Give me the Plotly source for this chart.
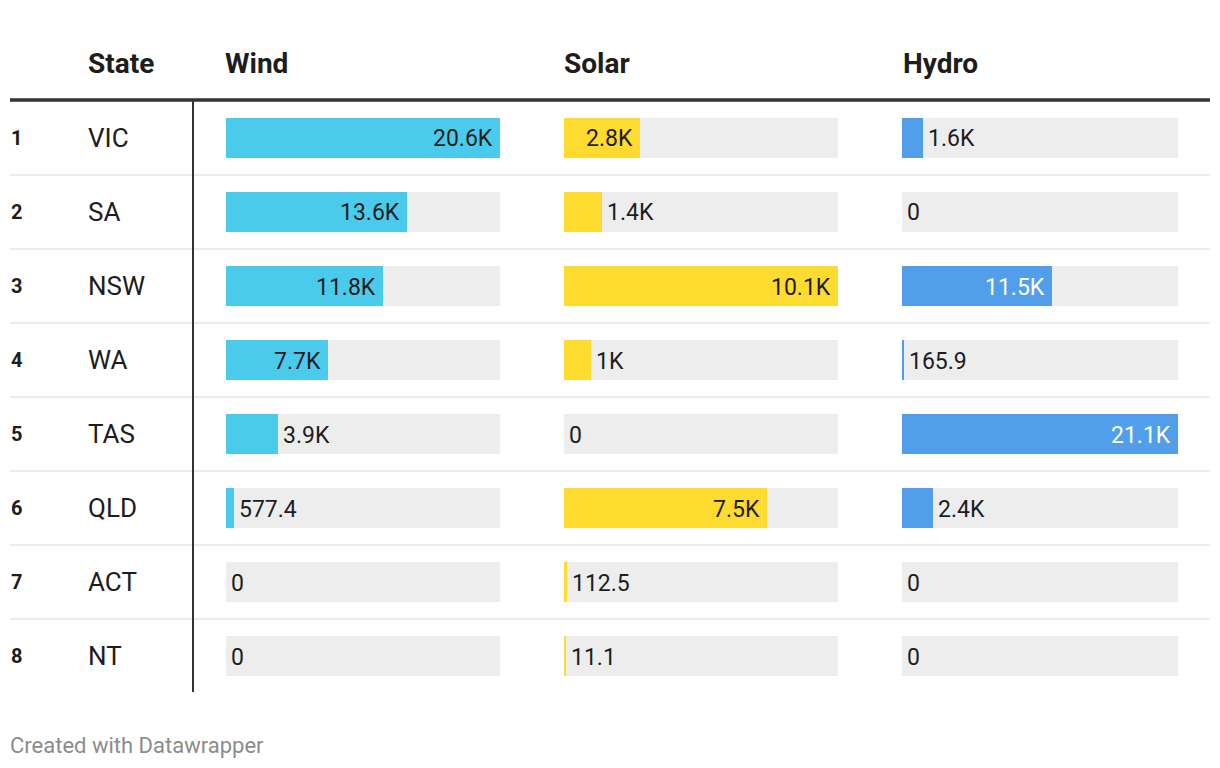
import plotly.graph_objects as go

# ---- data ----
ranks = [1, 2, 3, 4, 5, 6, 7, 8]
states = ["VIC", "SA", "NSW", "WA", "TAS", "QLD", "ACT", "NT"]
wind = [20600, 13600, 11800, 7700, 3900, 577.4, 0, 0]
solar = [2800, 1400, 10100, 1000, 0, 7500, 112.5, 11.1]
hydro = [1600, 0, 11500, 165.9, 21100, 2400, 0, 0]
column_names = ["Wind", "Solar", "Hydro"]

# ---- style ----
W, H = 1220, 768
FONT = "Roboto, 'Noto Sans', sans-serif"
DARK = "#1d1d1d"
bar_colors = ["#4bcbeb", "#fedb2f", "#519fea"]
inside_text_colors = [DARK, DARK, "#ffffff"]
col_px = [(226, 500), (564, 838), (902, 1178)]
header_px = [225, 564, 903]
table_top, row_h = 101, 74
n = len(states)
table_bottom = table_top + row_h * n
MIN_FRAC = 0.0073  # smallest visible bar (display minimum, like the original)


def px(x):
    return x / W


def py(y):
    return 1 - y / H


def fmt(v):
    if v >= 1000:
        s = f"{v / 1000:.1f}"
        if s.endswith(".0"):
            s = s[:-2]
        return s + "K"
    if v == 0:
        return "0"
    s = f"{v:.1f}"
    if s.endswith(".0"):
        s = s[:-2]
    return s


fig = go.Figure()
annotations = []
shapes = []

series = [wind, solar, hydro]
for k, vals in enumerate(series):
    ax = "x" if k == 0 else f"x{k + 1}"
    vmax = max(vals)
    shown = [0 if v == 0 else max(v, vmax * MIN_FRAC) for v in vals]
    # background track
    fig.add_trace(go.Bar(
        x=[vmax] * n, y=states, orientation="h", xaxis=ax, yaxis="y",
        marker=dict(color="#ededed", line=dict(width=0)), width=40 / row_h,
        hoverinfo="skip", showlegend=False))
    # value bar
    fig.add_trace(go.Bar(
        x=shown, y=states, orientation="h", xaxis=ax, yaxis="y",
        customdata=vals,
        marker=dict(color=bar_colors[k], line=dict(width=0)),
        width=40 / row_h, showlegend=False,
        hovertemplate="%{y}: %{customdata}<extra>" + column_names[k] + "</extra>"))
    for i, v in enumerate(vals):
        inside = v / vmax > 0.25
        annotations.append(dict(
            x=shown[i], y=states[i], xref=ax, yref="y", text=fmt(v), showarrow=False,
            xanchor="right" if inside else "left", yanchor="middle",
            xshift=-6 if inside else 4, yshift=-1, borderpad=0,
            font=dict(family=FONT, size=23,
                      color=inside_text_colors[k] if inside else DARK)))

layout_axes = {}
for k, (a, b) in enumerate(col_px):
    name = "xaxis" if k == 0 else f"xaxis{k + 1}"
    layout_axes[name] = dict(domain=[px(a), px(b)], range=[0, max(series[k])],
                             visible=False, fixedrange=True, anchor="y")

# rank + state labels
for i in range(n):
    annotations.append(dict(x=px(9), y=states[i], xref="paper", yref="y",
                            text=f"<b>{ranks[i]}</b>", showarrow=False,
                            xanchor="left", yanchor="middle",
                            font=dict(family=FONT, size=20, color=DARK)))
    annotations.append(dict(x=px(86), y=states[i], xref="paper", yref="y",
                            text=states[i], showarrow=False,
                            xanchor="left", yanchor="middle",
                            font=dict(family=FONT, size=26, color=DARK)))

# headers
for txt, x in zip(["State"] + column_names, [88] + header_px):
    annotations.append(dict(x=px(x - 2), y=py(63), xref="paper", yref="paper",
                            text=f"<b>{txt}</b>", showarrow=False,
                            xanchor="left", yanchor="middle",
                            font=dict(family=FONT, size=28, color=DARK)))

# footer
annotations.append(dict(x=px(8), y=py(745), xref="paper", yref="paper",
                        text="Created with Datawrapper", showarrow=False,
                        xanchor="left", yanchor="middle",
                        font=dict(family=FONT, size=22, color="#8c8c8c")))

# row separators
for i in range(n - 1):
    shapes.append(dict(type="line", xref="paper", yref="y",
                       x0=px(10), x1=px(1210), y0=i + 0.5, y1=i + 0.5,
                       line=dict(color="#ececec", width=2), layer="below"))
# header rule
shapes.append(dict(type="line", xref="paper", yref="paper",
                   x0=px(10), x1=px(1210), y0=py(100), y1=py(100),
                   line=dict(color="#333333", width=3.5)))
# vertical divider
shapes.append(dict(type="line", xref="paper", yref="paper",
                   x0=px(193), x1=px(193), y0=py(101), y1=py(692),
                   line=dict(color="#333333", width=2)))

fig.update_layout(
    width=W, height=H, margin=dict(l=0, r=0, t=0, b=0),
    paper_bgcolor="white", plot_bgcolor="white",
    barmode="overlay", bargap=0,
    yaxis=dict(domain=[py(table_bottom), py(table_top)], categoryorder="array",
               categoryarray=states, range=[n - 0.5, -0.5], visible=False,
               fixedrange=True),
    annotations=annotations, shapes=shapes,
    font=dict(family=FONT),
    **layout_axes,
)

fig.write_html("out.html", config={"displayModeBar": False},
               post_script="document.body.style.margin='0';document.body.style.overflow='hidden';")
